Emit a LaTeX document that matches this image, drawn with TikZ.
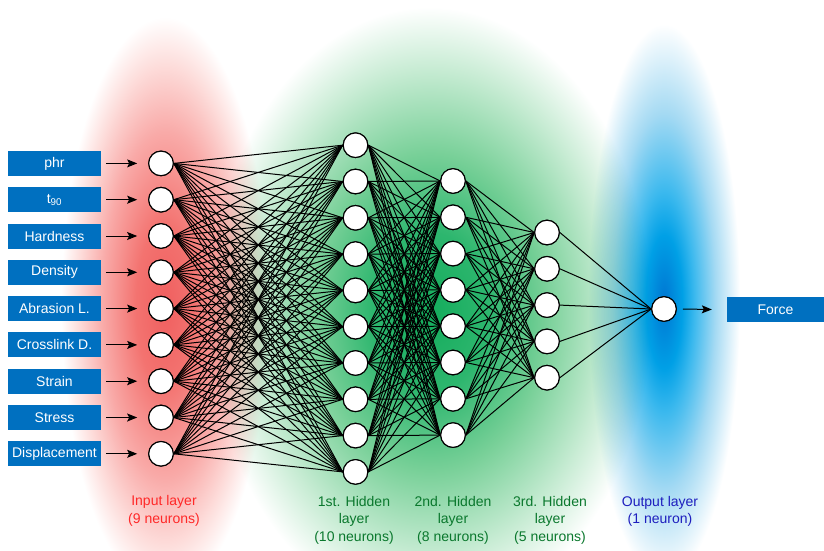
\documentclass[tikz,border=0pt]{standalone}
\usepackage{fontspec}
\setmainfont{Liberation Sans}
\usetikzlibrary{arrows.meta}

\definecolor{boxblue}{RGB}{0,112,192}
\definecolor{labred}{RGB}{255,40,40}
\definecolor{labgreen}{RGB}{10,120,45}
\definecolor{labblue}{RGB}{30,30,190}

\definecolor{rg0}{RGB}{240,95,95}
\definecolor{rg1}{RGB}{243,115,112}
\definecolor{rg2}{RGB}{249,170,168}
\definecolor{rg3}{RGB}{253,222,220}
\definecolor{gg0}{RGB}{20,172,92}
\definecolor{gg1}{RGB}{45,182,110}
\definecolor{gg2}{RGB}{120,208,152}
\definecolor{gg3}{RGB}{200,236,212}
\definecolor{bg0}{RGB}{0,118,210}
\definecolor{bg1}{RGB}{0,160,230}
\definecolor{bg2}{RGB}{60,185,238}
\definecolor{bg3}{RGB}{165,218,243}

\pgfdeclareradialshading{redglow}{\pgfpoint{0bp}{0bp}}{color(0bp)=(rg0); color(7bp)=(rg1); color(15bp)=(rg2); color(21bp)=(rg3); color(25bp)=(white); color(50bp)=(white)}
\pgfdeclareradialshading{greenglow}{\pgfpoint{0bp}{0bp}}{color(0bp)=(gg0); color(6.5bp)=(gg1); color(13bp)=(gg2); color(20bp)=(gg3); color(25bp)=(white); color(50bp)=(white)}
\pgfdeclareradialshading{blueglow}{\pgfpoint{0bp}{0bp}}{color(0bp)=(bg0); color(6bp)=(bg1); color(10bp)=(bg2); color(17bp)=(bg3); color(25bp)=(white); color(50bp)=(white)}

\tikzset{
  neuron/.style={circle, draw=black, fill=white, line width=1.1pt, minimum size=24.6pt, inner sep=0pt},
  inbox/.style={fill=boxblue, text=white, minimum width=93pt, minimum height=25pt, inner sep=0pt, font=\fontsize{14}{17}\selectfont},
  link/.style={line width=1pt, black},
  arr/.style={line width=1pt, -{Stealth[length=10pt,width=8pt,inset=2pt]}},
  laylabel/.style={align=center, anchor=north, inner sep=0pt, font=\fontsize{14}{17.5}\selectfont}
}

\begin{document}
\begin{tikzpicture}[x=1pt,y=-1pt]
\useasboundingbox (0,0) rectangle (824,551);
\begin{scope}
\clip (0,0) rectangle (824,551);
\fill[white] (0,0) rectangle (824,551);
\begin{scope}[blend mode=multiply]
\shade[shading=redglow] (165,305) ellipse [x radius=104, y radius=288];
\shade[shading=greenglow] (430,312) ellipse [x radius=222, y radius=305];
\shade[shading=blueglow] (664,302) ellipse [x radius=76, y radius=278];
\end{scope}
\end{scope}

% input layer
\foreach \t [count=\i] in {phr,{t\textsubscript{90}},Hardness,Density,Abrasion L.,Crosslink D.,Strain,Stress,Displacement}{
  \node[inbox] (b\i) at (54.5,{163.4+(\i-1)*36.3}) {\t};
  \node[neuron] (i\i) at (161,{163.4+(\i-1)*36.3}) {};
}
% hidden 1
\foreach \i in {1,...,10} \node[neuron] (h\i) at (355.5,{145.2+(\i-1)*36.3}) {};
% hidden 2
\foreach \i in {1,...,8} \node[neuron] (k\i) at (453,{181+(\i-1)*36.3}) {};
% hidden 3
\foreach \i in {1,...,5} \node[neuron] (m\i) at (547,{232.5+(\i-1)*36.3}) {};
% output
\node[neuron] (o) at (664,309) {};
\node[inbox, minimum width=97pt] (f) at (775.5,309.5) {Force};

% connections
\foreach \a in {1,...,9} \foreach \b in {1,...,10} \draw[link] (i\a.east) -- (h\b.west);
\foreach \a in {1,...,10} \foreach \b in {1,...,8} \draw[link] (h\a.east) -- (k\b.west);
\foreach \a in {1,...,8} \foreach \b in {1,...,5} \draw[link] (k\a.east) -- (m\b.west);
\foreach \a in {1,...,5} \draw[link] (m\a.east) -- (o.west);

% redraw neurons on top
\foreach \i in {1,...,9} \node[neuron] at (i\i) {};
\foreach \i in {1,...,10} \node[neuron] at (h\i) {};
\foreach \i in {1,...,8} \node[neuron] at (k\i) {};
\foreach \i in {1,...,5} \node[neuron] at (m\i) {};
\node[neuron] at (o) {};

% arrows
\foreach \i in {1,...,9} \draw[arr] ([xshift=5pt]b\i.east) -- ([xshift=-11pt]i\i.west);
\draw[arr] ([xshift=6pt]o.east) -- ([xshift=-15pt]f.west);

% labels
\node[laylabel, text=labred] (l1) at (164,495.5) {Input layer\\(9 neurons)};
\node[laylabel, text=labgreen] (l2) at (354,496) {1st. Hidden\\layer\\(10 neurons)};
\node[laylabel, text=labgreen] (l3) at (453,496) {2nd. Hidden\\layer\\(8 neurons)};
\node[laylabel, text=labgreen] (l4) at (550,496) {3rd. Hidden\\layer\\(5 neurons)};
\node[laylabel, text=labblue] (l5) at (660,496) {Output layer\\(1 neuron)};
\end{tikzpicture}
\end{document}
